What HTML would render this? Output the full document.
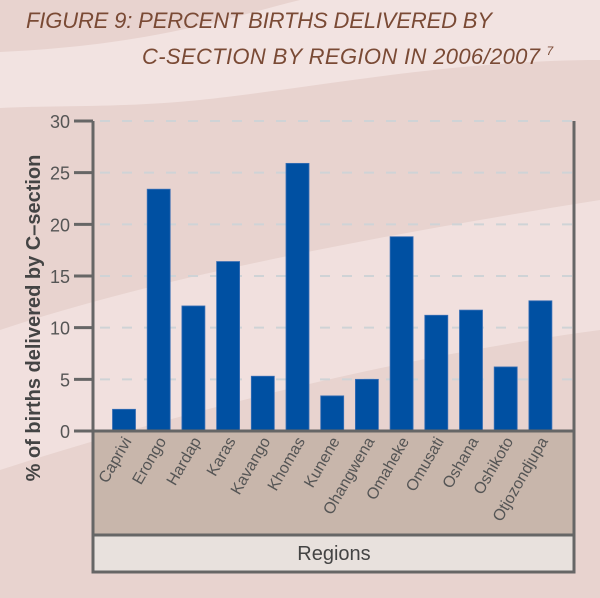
<!DOCTYPE html>
<html><head><meta charset="utf-8"><style>
body{margin:0;width:600px;height:598px;overflow:hidden;background:#e8d3cf}
svg{display:block;font-family:"Liberation Sans","DejaVu Sans",sans-serif}
</style></head><body>
<svg width="600" height="598">
<path d="M0,52 C150,45 220,20 300,0 L600,0 L600,60 C450,60 300,90 200,100 C120,108 60,105 0,108 Z" fill="#f2e3e1"/>
<path d="M0,330 C150,280 350,240 600,200 L600,330 C450,350 250,390 0,470 Z" fill="#f2e3e1" opacity="0.8"/>
<text x="26" y="28" font-size="22" font-style="italic" fill="#7a4a35" textLength="466">FIGURE 9: PERCENT BIRTHS DELIVERED BY</text>
<text x="142" y="64" font-size="22" font-style="italic" fill="#7a4a35"><tspan textLength="398">C-SECTION BY REGION IN 2006/2007</tspan> <tspan font-size="12" dy="-9">7</tspan></text>
<g id="grid"></g>
<rect x="93" y="431" width="481" height="104" fill="#c8b6ab" stroke="#666" stroke-width="3"/>
<rect x="93" y="535" width="481" height="37" fill="#e8e1dd" stroke="#666" stroke-width="3"/>
<text x="334" y="560" font-size="20" fill="#444" text-anchor="middle">Regions</text>
<text transform="translate(40,318) rotate(-90)" font-size="20" font-weight="bold" fill="#444" text-anchor="middle">% of births delivered by C–section</text>
<g id="bars"></g>
<line x1="93" y1="121" x2="93" y2="431" stroke="#666" stroke-width="3"/>
<line x1="574" y1="121" x2="574" y2="431" stroke="#666" stroke-width="3"/>
<line x1="74" y1="431" x2="574" y2="431" stroke="#666" stroke-width="3"/>
<g id="ticks"></g>
<g id="labels"></g>
</svg>
<script>
const categories=["Caprivi","Erongo","Hardap","Karas","Kavango","Khomas","Kunene","Ohangwena","Omaheke","Omusati","Oshana","Oshikoto","Otjozondjupa"];
const values=[2.1,23.4,12.1,16.4,5.3,25.9,3.4,5.0,18.8,11.2,11.7,6.2,12.6];
const yTicks=[0,5,10,15,20,25,30];
const NS="http://www.w3.org/2000/svg";
const y0=431,yTop=121,yMax=30;
const yS=v=>y0-(v/yMax)*(y0-yTop);
const step=34.7,first=124,bw=23;
const xS=i=>first+i*step;
function mk(t,a,p){const e=document.createElementNS(NS,t);for(const k in a)e.setAttribute(k,a[k]);document.getElementById(p).appendChild(e);return e;}
yTicks.forEach(t=>{
 const y=yS(t);
 if(t>0){const g=mk('line',{x1:100,x2:572,y1:y,y2:y,stroke:'#cfd3d6','stroke-width':2,'stroke-dasharray':'10,12'},'grid');
 
 }
 const tk=mk('line',{x1:74,x2:93,y1:y,y2:y,stroke:'#666','stroke-width':3},'ticks');
 
 
 const tx=mk('text',{x:70,y:y+7,'font-size':18,fill:'#555','text-anchor':'end'},'ticks');
 tx.textContent=t;
 
 
});
categories.forEach((c,i)=>{
 const x=xS(i),v=values[i];
 const r=mk('rect',{x:x-bw/2,y:yS(v),width:bw,height:y0-yS(v),fill:'#0050a2',stroke:'#3a6fb5','stroke-width':0.8},'bars');
 
 
 const t=mk('text',{transform:`translate(${x+8},441) rotate(-60)`,'font-size':16,fill:'#555','text-anchor':'end'},'labels');
 t.textContent=c;
 
 
});
</script>
</body></html>
